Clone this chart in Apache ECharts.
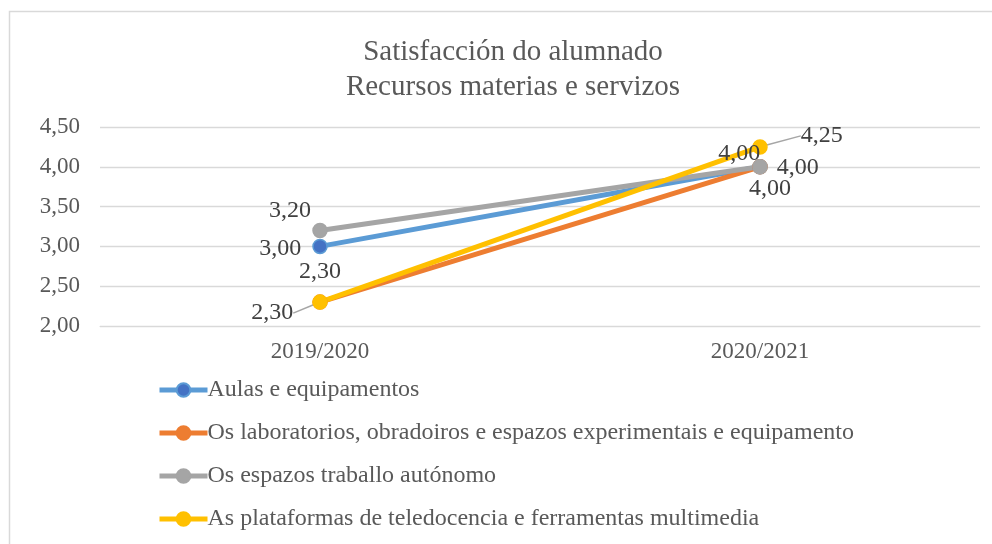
<!DOCTYPE html>
<html>
<head>
<meta charset="utf-8">
<script src="https://cdn.jsdelivr.net/npm/echarts@6/dist/echarts.min.js"></script>
<style>
  html, body { margin: 0; padding: 0; background: #fff; }
  #main { width: 992px; height: 544px; }
</style>
</head>
<body>
<div id="main"></div>
<script>
// datos do gráfico
var cursos = ['2019/2020', '2020/2021'];
var aulas = [3.00, 4.00];
var laboratorios = [2.30, 4.00];
var espazos = [3.20, 4.00];
var plataformas = [2.30, 4.25];
var nomes = [
    'Aulas e equipamentos',
    'Os laboratorios, obradoiros e espazos experimentais e equipamento',
    'Os espazos traballo autónomo',
    'As plataformas de teledocencia e ferramentas multimedia'
];

var fonte = 'Liberation Serif';
var cinza = '#595959';

function coma(v) {
    return Number(v).toFixed(2).replace('.', ',');
}

function serie(nome, datos, cor, marca, etiquetas, layout) {
    return {
        name: nome,
        type: 'line',
        data: datos.map(function (v, i) {
            return { value: v, label: etiquetas[i] };
        }),
        symbol: 'circle',
        symbolSize: 14,
        lineStyle: { color: cor, width: 5 },
        itemStyle: { color: marca, borderColor: cor, borderWidth: 1.5 },
        label: {
            show: true,
            fontFamily: fonte,
            fontSize: 24,
            color: '#404040',
            formatter: function (p) { return coma(p.value); }
        },
        labelLine: { show: !!layout, lineStyle: { color: '#a6a6a6', width: 1.5 } },
        labelLayout: layout,
        emphasis: { disabled: true }
    };
}

var chartDom = document.getElementById('main');
var myChart = echarts.init(chartDom);
var option;

option = {
    animation: false,
    title: {
        text: 'Satisfacción do alumnado\nRecursos materias e servizos',
        left: 508,
        textAlign: 'center',
        top: 30,
        textStyle: { fontFamily: fonte, fontSize: 29, fontWeight: 'normal', color: cinza, lineHeight: 35 }
    },
    graphic: [{
        type: 'rect',
        shape: { x: 9.5, y: 11.5, width: 1000, height: 545 },
        style: { fill: 'none', stroke: '#d9d9d9', lineWidth: 1.5 },
        silent: true
    }],
    grid: { left: 100, right: 12, top: 127, bottom: 218 },
    legend: {
        orient: 'vertical',
        left: 152,
        top: 373,
        itemWidth: 48,
        itemHeight: 17,
        itemGap: 19,
        lineStyle: { width: 5 },
        textStyle: { fontFamily: fonte, fontSize: 24, lineHeight: 24, color: cinza, padding: [0, 0, 0, -5] },
        data: nomes
    },
    xAxis: {
        type: 'category',
        data: cursos,
        axisLine: { lineStyle: { color: '#d9d9d9' } },
        axisTick: { show: false },
        axisLabel: { fontFamily: fonte, fontSize: 23, color: cinza, margin: 14 }
    },
    yAxis: {
        type: 'value',
        min: 2,
        max: 4.5,
        interval: 0.5,
        axisLine: { show: false },
        axisTick: { show: false },
        splitLine: { lineStyle: { color: '#d9d9d9', width: 1.3 } },
        axisLabel: {
            fontFamily: fonte, fontSize: 23, color: cinza, margin: 20,
            formatter: function (v) { return coma(v); }
        }
    },
    series: [
        serie(nomes[0], aulas, '#5b9bd5', '#4472c4',
            [{ position: 'left', offset: [-6, 2] }, { position: 'left', offset: [13, -13] }]),
        serie(nomes[1], laboratorios, '#ed7d31', '#ed7d31',
            [{ position: 'top', offset: [0, -6] }, { position: 'bottom', offset: [10, -3] }]),
        serie(nomes[2], espazos, '#a5a5a5', '#a5a5a5',
            [{ position: 'top', offset: [-30, 5] }, { position: 'right', offset: [4, 1] }]),
        serie(nomes[3], plataformas, '#ffc000', '#ffc000',
            [{ position: 'left' }, { position: 'right' }],
            function (p) {
                return p.dataIndex === 0 ? { dx: -14, dy: 11 } : { dx: 28, dy: -11 };
            })
    ]
};

option && myChart.setOption(option);
</script>
</body>
</html>
